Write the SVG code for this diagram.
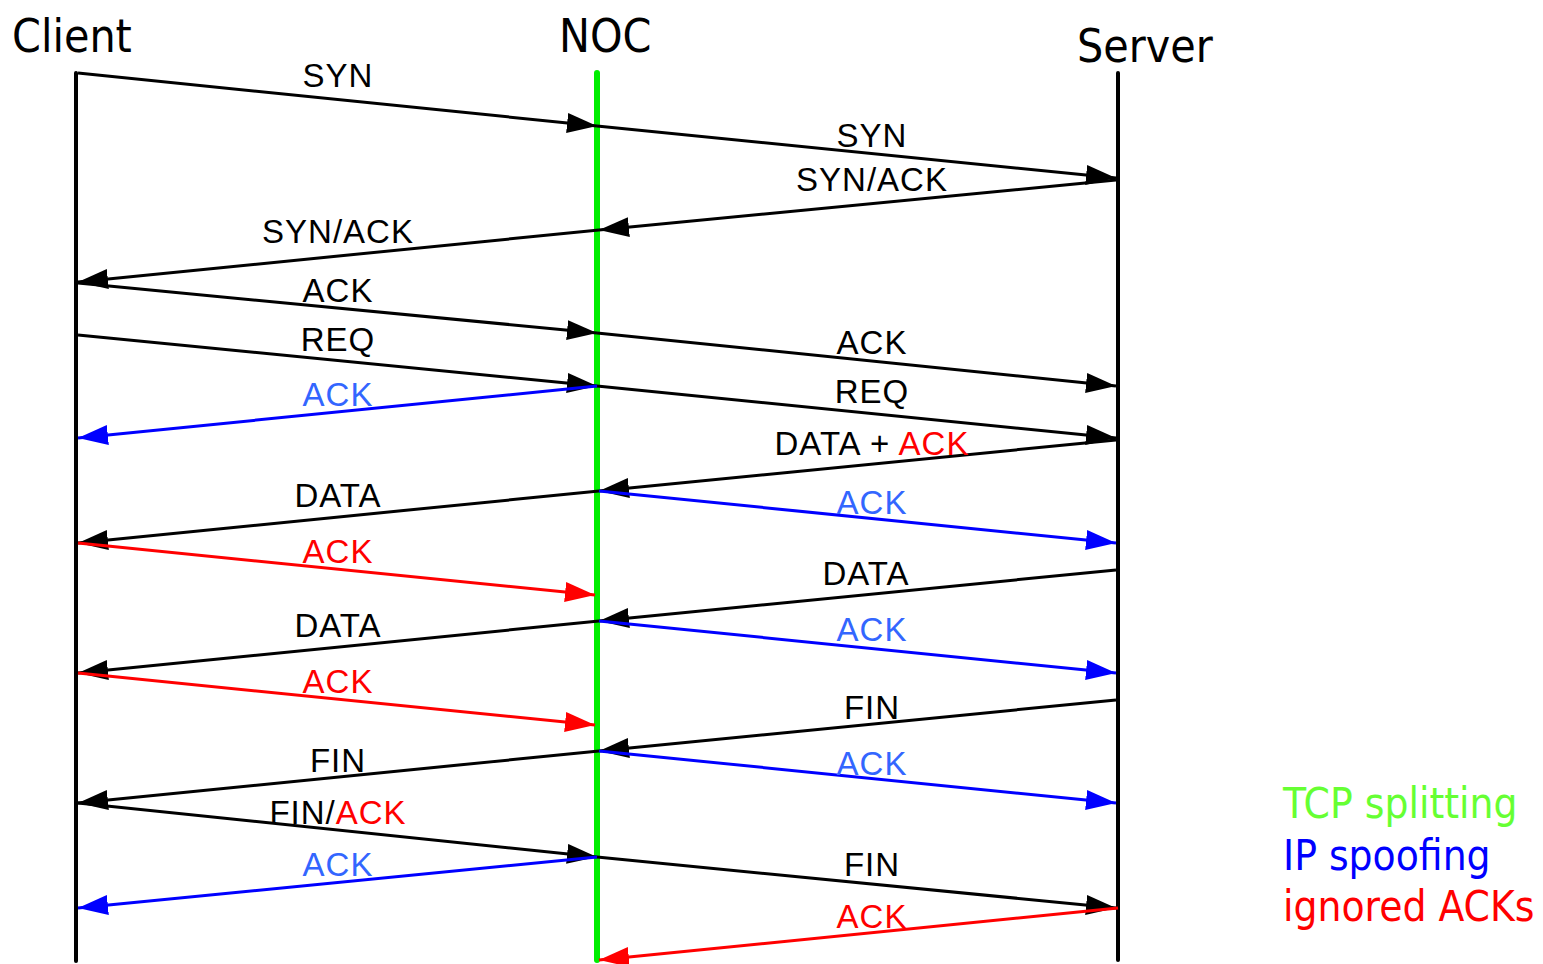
<svg xmlns="http://www.w3.org/2000/svg" width="1543" height="964" viewBox="0 0 1543 964">
<style>
.lbl{font-family:"Liberation Sans",Arial,sans-serif;font-size:33px;letter-spacing:1px;text-anchor:middle;fill:#000}
.ttl{font-family:"DejaVu Sans Condensed","DejaVu Sans",sans-serif;font-stretch:condensed;font-size:46px;fill:#000}
.leg{font-family:"DejaVu Sans Condensed","DejaVu Sans",sans-serif;font-stretch:condensed;font-size:42px}
.k{stroke:#000;stroke-width:3;fill:none;marker-end:url(#ak)}
.b{stroke:#0000ff;stroke-width:3;fill:none;marker-end:url(#ab)}
.r{stroke:#ff0000;stroke-width:3;fill:none;marker-end:url(#ar)}
.bt{fill:#3366ff}
.rt{fill:#ff0000}
</style>
<defs>
<marker id="ak" markerUnits="userSpaceOnUse" markerWidth="32" markerHeight="22" refX="30" refY="10" orient="auto"><path d="M0,0 L30,10 L0,20 z" fill="#000"/></marker>
<marker id="ab" markerUnits="userSpaceOnUse" markerWidth="32" markerHeight="22" refX="30" refY="10" orient="auto"><path d="M0,0 L30,10 L0,20 z" fill="#0000ff"/></marker>
<marker id="ar" markerUnits="userSpaceOnUse" markerWidth="32" markerHeight="22" refX="30" refY="10" orient="auto"><path d="M0,0 L30,10 L0,20 z" fill="#ff0000"/></marker>
</defs>
<rect width="1543" height="964" fill="#fff"/>
<g id="client"><line x1="76" y1="73" x2="76" y2="961" stroke="#000" stroke-width="4" stroke-linecap="round"/><text class="ttl" x="12" y="52">Client</text></g>
<g id="noc"><line x1="597" y1="73" x2="597" y2="960" stroke="#00ee00" stroke-width="6" stroke-linecap="round"/><text class="ttl" x="559" y="52">NOC</text></g>
<g id="server"><line x1="1118" y1="73" x2="1118" y2="960" stroke="#000" stroke-width="4" stroke-linecap="round"/><text class="ttl" x="1077" y="62">Server</text></g>
<g id="connectors">
<line class="k" x1="78" y1="73" x2="597" y2="126"/>
<line class="k" x1="597" y1="126" x2="1116" y2="178"/>
<line class="k" x1="1116" y1="180" x2="599" y2="230"/>
<line class="k" x1="599" y1="230" x2="78" y2="282"/>
<line class="k" x1="78" y1="283" x2="597" y2="333"/>
<line class="k" x1="597" y1="333" x2="1116" y2="386"/>
<line class="k" x1="78" y1="335" x2="597" y2="386"/>
<line class="k" x1="597" y1="386" x2="1116" y2="438"/>
<line class="b" x1="597" y1="386" x2="78" y2="438"/>
<line class="k" x1="1116" y1="440" x2="599" y2="491"/>
<line class="k" x1="599" y1="491" x2="78" y2="543"/>
<line class="b" x1="599" y1="491" x2="1116" y2="543"/>
<line class="r" x1="78" y1="543" x2="595" y2="595"/>
<line class="k" x1="1116" y1="570" x2="599" y2="621"/>
<line class="k" x1="599" y1="621" x2="78" y2="673"/>
<line class="b" x1="599" y1="621" x2="1116" y2="673"/>
<line class="r" x1="78" y1="673" x2="595" y2="725"/>
<line class="k" x1="1116" y1="700" x2="599" y2="751"/>
<line class="k" x1="599" y1="751" x2="78" y2="803"/>
<line class="b" x1="599" y1="751" x2="1116" y2="803"/>
<line class="k" x1="78" y1="803" x2="597" y2="857"/>
<line class="b" x1="597" y1="857" x2="78" y2="908"/>
<line class="k" x1="597" y1="857" x2="1116" y2="908"/>
<line class="r" x1="1118" y1="908" x2="599" y2="960"/>
</g>
<g id="labels">
<text class="lbl" x="338" y="87">SYN</text>
<text class="lbl" x="872" y="147">SYN</text>
<text class="lbl" x="872" y="191">SYN/ACK</text>
<text class="lbl" x="338" y="243">SYN/ACK</text>
<text class="lbl" x="338" y="302">ACK</text>
<text class="lbl" x="872" y="354">ACK</text>
<text class="lbl" x="338" y="351">REQ</text>
<text class="lbl" x="872" y="403">REQ</text>
<text class="lbl bt" x="338" y="406">ACK</text>
<text class="lbl" x="872" y="455">DATA + <tspan class="rt">ACK</tspan></text>
<text class="lbl" x="338" y="507">DATA</text>
<text class="lbl bt" x="872" y="514">ACK</text>
<text class="lbl rt" x="338" y="563">ACK</text>
<text class="lbl" x="866" y="585">DATA</text>
<text class="lbl" x="338" y="637">DATA</text>
<text class="lbl bt" x="872" y="641">ACK</text>
<text class="lbl rt" x="338" y="693">ACK</text>
<text class="lbl" x="872" y="719">FIN</text>
<text class="lbl" x="338" y="772">FIN</text>
<text class="lbl bt" x="872" y="775">ACK</text>
<text class="lbl" x="338" y="824">FIN/<tspan class="rt">ACK</tspan></text>
<text class="lbl bt" x="338" y="876">ACK</text>
<text class="lbl" x="872" y="876">FIN</text>
<text class="lbl rt" x="872" y="928">ACK</text>
</g>
<g id="legend">
<text class="leg" x="1283" y="818" fill="#66ff33">TCP splitting</text>
<text class="leg" x="1283" y="870" fill="#0000ff">IP spoofing</text>
<text class="leg" x="1283" y="921" fill="#ff0000">ignored ACKs</text>
</g>
</svg>
